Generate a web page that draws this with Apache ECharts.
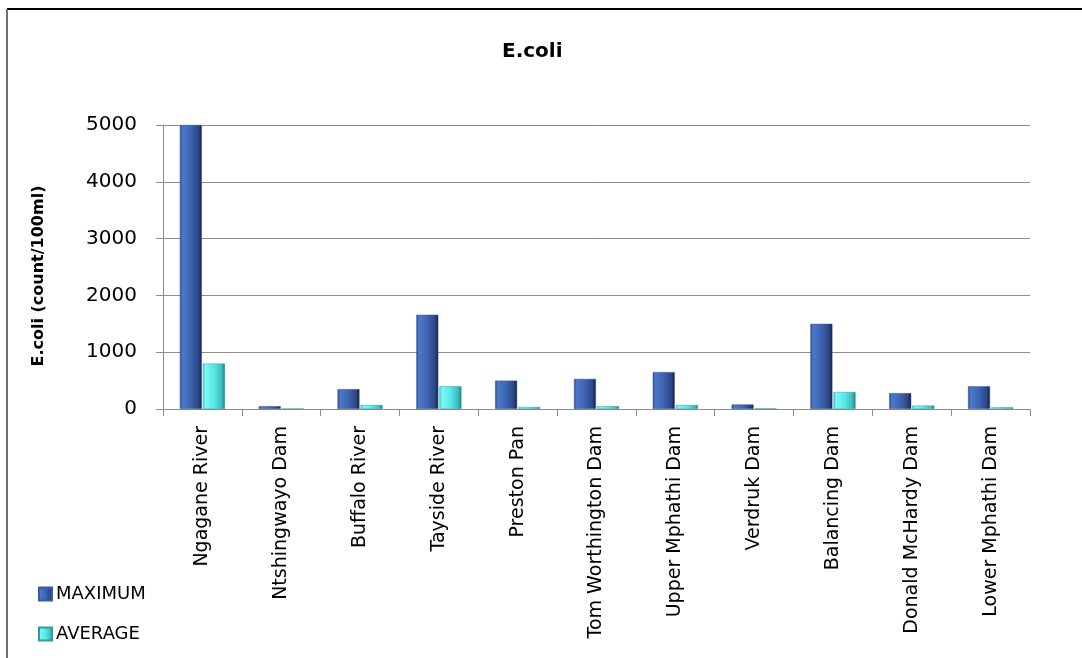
<!DOCTYPE html>
<html>
<head>
<meta charset="utf-8">
<title>E.coli</title>
<script src="https://cdn.jsdelivr.net/npm/echarts@6/dist/echarts.min.js"></script>
<style>
  html, body { margin: 0; padding: 0; background: #ffffff; }
  #chart { width: 1082px; height: 658px; }
</style>
</head>
<body>
<div id="chart"></div>
<script>
// Sampling sites along the x axis
const sites = [
  'Ngagane River', 'Ntshingwayo Dam', 'Buffalo River', 'Tayside River',
  'Preston Pan', 'Tom Worthington Dam', 'Upper Mphathi Dam', 'Verdruk Dam',
  'Balancing Dam', 'Donald McHardy Dam', 'Lower Mphathi Dam'
];
// E.coli counts per 100 ml
const maximumValues = [5000, 50, 350, 1660, 500, 530, 650, 80, 1500, 280, 400];
const averageValues = [800, 5, 70, 400, 35, 50, 70, 10, 300, 60, 30];
// Value axis ticks
const yTicks = [0, 1000, 2000, 3000, 4000, 5000];

const FONT = 'DejaVu Sans';

// Bevelled-look fills
const blueFill = new echarts.graphic.LinearGradient(0, 0, 1, 0, [
  { offset: 0, color: '#2c4a88' },
  { offset: 0.12, color: '#4d78c9' },
  { offset: 0.5, color: '#3d64b2' },
  { offset: 0.85, color: '#2b4683' },
  { offset: 1, color: '#111d3a' }
]);
const cyanFill = new echarts.graphic.LinearGradient(0, 0, 1, 0, [
  { offset: 0, color: '#44cccc' },
  { offset: 0.12, color: '#7af8f8' },
  { offset: 0.5, color: '#58e8e8' },
  { offset: 0.85, color: '#3cbcbc' },
  { offset: 1, color: '#1f7878' }
]);

const chart = echarts.init(document.getElementById('chart'), null, { renderer: 'canvas' });

chart.setOption({
  backgroundColor: '#ffffff',
  animation: false,
  title: {
    text: 'E.coli',
    left: 497,
    top: 37,
    textStyle: { fontFamily: FONT, fontSize: 20, fontWeight: 'bold', color: '#000' }
  },
  graphic: [
    { type: 'line', shape: { x1: 7, y1: 9, x2: 1082, y2: 9 }, style: { stroke: '#000', lineWidth: 2 } },
    { type: 'line', shape: { x1: 7, y1: 9, x2: 7, y2: 658 }, style: { stroke: '#6e6e6e', lineWidth: 2 } }
  ],
  legend: {
    orient: 'vertical',
    left: 38,
    top: 585,
    padding: 0,
    itemWidth: 13,
    itemHeight: 13,
    itemGap: 22,
    icon: 'rect',
    textStyle: { fontFamily: FONT, fontSize: 18, color: '#000', padding: [0, 0, 0, -1] },
    data: ['MAXIMUM', 'AVERAGE']
  },
  grid: { left: 163, right: 52, top: 125, bottom: 249 },
  xAxis: {
    type: 'category',
    data: sites,
    axisLine: { lineStyle: { color: '#8c8c8c', width: 1 } },
    axisTick: { show: true, length: 7, lineStyle: { color: '#8c8c8c' } },
    axisLabel: {
      rotate: 90,
      margin: 17,
      fontFamily: FONT,
      fontSize: 19,
      color: '#000',
      interval: 0
    }
  },
  yAxis: {
    type: 'value',
    min: yTicks[0],
    max: yTicks[yTicks.length - 1],
    interval: yTicks[1] - yTicks[0],
    name: 'E.coli (count/100ml)',
    nameLocation: 'middle',
    nameRotate: 90,
    nameGap: 116,
    nameTextStyle: {
      fontFamily: FONT, fontSize: 16, fontWeight: 'bold', color: '#000',
      padding: [0, 18, 0, 0]
    },
    axisLine: { show: true, lineStyle: { color: '#8c8c8c', width: 1 } },
    axisTick: { show: true, length: 7, inside: false, lineStyle: { color: '#8c8c8c' } },
    axisLabel: {
      fontFamily: FONT, fontSize: 20, color: '#000', margin: 26,
      formatter: (v) => String(v)
    },
    splitLine: { show: true, lineStyle: { color: '#8c8c8c', width: 1 } }
  },
  series: [
    {
      name: 'MAXIMUM',
      type: 'bar',
      data: maximumValues,
      barWidth: 22,
      barGap: '5%',
      itemStyle: { color: blueFill, borderColor: '#3b5b9c', borderWidth: 0.5 }
    },
    {
      name: 'AVERAGE',
      type: 'bar',
      data: averageValues,
      barWidth: 22,
      itemStyle: { color: cyanFill, borderColor: '#2e9c9c', borderWidth: 0.5 }
    }
  ]
});
</script>
</body>
</html>
